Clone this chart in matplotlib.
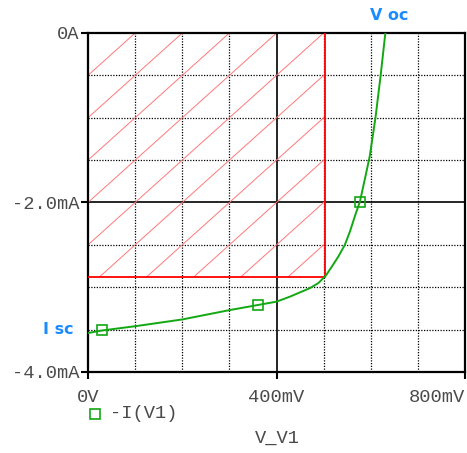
import matplotlib
matplotlib.use('Agg')
import matplotlib.pyplot as plt
from matplotlib.lines import Line2D
from matplotlib.patches import Rectangle
import numpy as np

# solar cell I-V sweep, V in mV, I in mA
v_mv = [0, 30, 100, 200, 300, 360, 400, 429, 450, 471, 489, 505, 517, 531,
        545, 556, 567, 577, 590, 598, 610, 621, 631]
i_ma = [-3.54, -3.51, -3.46, -3.38, -3.27, -3.21, -3.17, -3.11, -3.06, -3.01,
        -2.95, -2.86, -2.76, -2.64, -2.50, -2.34, -2.15, -1.99, -1.66, -1.45,
        -1.0, -0.5, 0.0]
marker_v = [30, 360, 578]
marker_i = [-3.51, -3.21, -2.0]

# max power point (corner of red box)
vmp = 503
imp = -2.875

xticks = [0, 400, 800]
xticklabels = ['0V', '400mV', '800mV']
yticks = [0, -2, -4]
yticklabels = ['0A', '-2.0mA', '-4.0mA']

W, H = 467, 453
fig = plt.figure(figsize=(W / 100, H / 100), dpi=100)
ax = fig.add_axes([88 / W, 1 - 372 / H, (465 - 88) / W, (372 - 33) / H])
ax.set_xlim(0, 800)
ax.set_ylim(-4, 0)

green = '#12a812'
red = '#ff0000'
blue = '#1a8cff'
txtcol = '#4a4a4a'
mono = 'Liberation Mono'

# grid
for x in range(100, 800, 100):
    if x == 400:
        ax.axvline(x, color='black', lw=1.2, zorder=1)
    else:
        ax.axvline(x, color='black', lw=0.9, ls=(0, (1, 1.2)), zorder=1)
for y in np.arange(-3.5, 0, 0.5):
    if y == -2:
        ax.axhline(y, color='black', lw=1.2, zorder=1)
    else:
        ax.axhline(y, color='black', lw=0.9, ls=(0, (1, 1.2)), zorder=1)

# hatched power rectangle
rect = Rectangle((0, imp), vmp, -imp, fill=False, edgecolor='none')
ax.add_patch(rect)
hv = np.array([0, 1200])
for k in range(1, 14):
    ln, = ax.plot(hv, 0.005 * hv - 0.5 * k, color='#ff7878', lw=0.7, zorder=2)
    ln.set_clip_path(rect)
ax.plot([0, vmp, vmp], [imp, imp, 0], color=red, lw=1.3, zorder=3)

# curve
ax.plot(v_mv, i_ma, color=green, lw=1.4, zorder=4)
ax.plot(marker_v, marker_i, ls='none', marker='s', ms=7, mfc='none',
        mec=green, mew=1.2, zorder=5)

# axes styling
for s in ax.spines.values():
    s.set_linewidth(1.6)
    s.set_color('black')
ax.set_xticks(xticks)
ax.set_xticklabels(xticklabels)
ax.set_yticks(yticks)
ax.set_yticklabels(yticklabels)
ax.tick_params(axis='both', length=5, width=1.5, color='black',
               labelsize=13.5, labelcolor=txtcol)
ax.tick_params(axis='x', pad=7)
ax.tick_params(axis='y', pad=1)
for lab in ax.get_xticklabels() + ax.get_yticklabels():
    lab.set_fontfamily(mono)
ax.get_xticklabels()[-1].set_ha('right')
ax.get_xticklabels()[-1].set_x(800)

# annotations
fig.text(370 / W, 1 - 15 / H, 'V oc', color=blue, fontsize=11.5,
         fontweight='bold', va='center', ha='left')
fig.text(43 / W, 1 - 330 / H, 'I sc', color=blue, fontsize=11.5,
         fontweight='bold', va='center', ha='left')

# legend + axis title
fig.add_artist(Line2D([95 / W], [1 - 414 / H], marker='s', ms=6.5, mfc='none',
                      mec=green, mew=1.2, ls='none'))
fig.text(110 / W, 1 - 414 / H, '-I(V1)', color=txtcol, fontsize=13.5,
         fontfamily=mono, va='center', ha='left')
fig.text(277 / W, 1 - 438 / H, 'V_V1', color=txtcol, fontsize=13.5,
         fontfamily=mono, va='center', ha='center')

fig.savefig('out.png', dpi=100)
